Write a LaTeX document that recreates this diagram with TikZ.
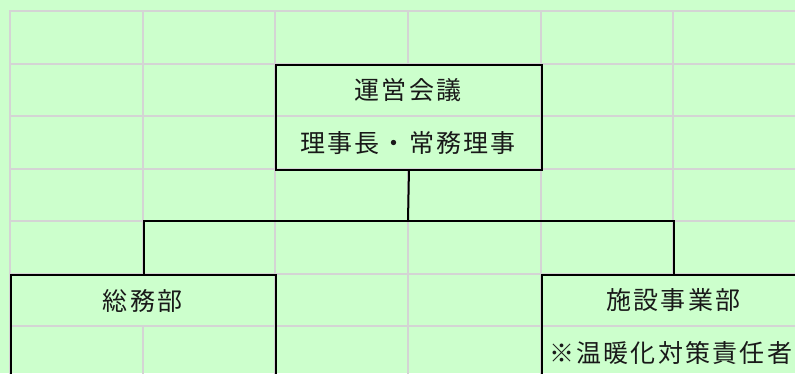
\documentclass[tikz,border=0pt]{standalone}
\usepackage{fontspec}
\newfontfamily\jpfont[LetterSpace=9]{Noto Sans CJK JP}
\definecolor{bggreen}{HTML}{CCFFCC}
\definecolor{gridgray}{HTML}{D4D4D4}
\begin{document}
\begin{tikzpicture}[x=1pt,y=-1pt,
  gridline/.style={draw=gridgray,line width=2pt},
  orgbox/.style={draw=black,line width=2pt,rectangle,inner sep=0pt,anchor=north west},
  conn/.style={draw=black,line width=2pt},
  lbl/.style={inner sep=0pt,font=\jpfont\fontsize{25}{25}\selectfont,text=black!90}]
\useasboundingbox (0,0) rectangle (795,373);
\clip (0,0) rectangle (795,373);
\fill[bggreen] (0,0) rectangle (795,373);
% horizontal grid lines
\foreach \yy in {11,63.5,116,168.5,221,273.5,326}{
  \draw[gridline] (10,\yy) -- (800,\yy);
}
% vertical grid lines
\draw[gridline] (10,10) -- (10,380);
\draw[gridline] (142.7,10) -- (142.7,273.5);
\draw[gridline] (142.7,326) -- (142.7,380);
\draw[gridline] (275.3,10) -- (275.3,380);
\draw[gridline] (408,10) -- (408,63.5);
\draw[gridline] (408,168.5) -- (408,380);
\draw[gridline] (540.7,10) -- (540.7,380);
\draw[gridline] (673.3,10) -- (673.3,273.5);
% boxes
\node[orgbox,minimum width=265.3pt,minimum height=105pt] (top) at (275.3,63.5) {};
\node[orgbox,minimum width=265.3pt,minimum height=105pt] (left) at (10,273.5) {};
\node[orgbox,minimum width=265.3pt,minimum height=105pt] (right) at (540.7,273.5) {};
% connectors
\coordinate (j) at (408,221);
\draw[conn] (top.south) -- (j);
\draw[conn] (left.north) |- (j) -| (right.north);
% labels
\node[lbl] (t1) at (408,90.5) {運営会議};
\node[lbl] (t2) at (408,143) {理事長・常務理事};
\node[lbl] (l1) at (142.7,300.5) {総務部};
\node[lbl] (r1) at (673.3,300.5) {施設事業部};
\node[lbl] (r2) at (670.5,353) {※温暖化対策責任者};
\end{tikzpicture}
\end{document}
